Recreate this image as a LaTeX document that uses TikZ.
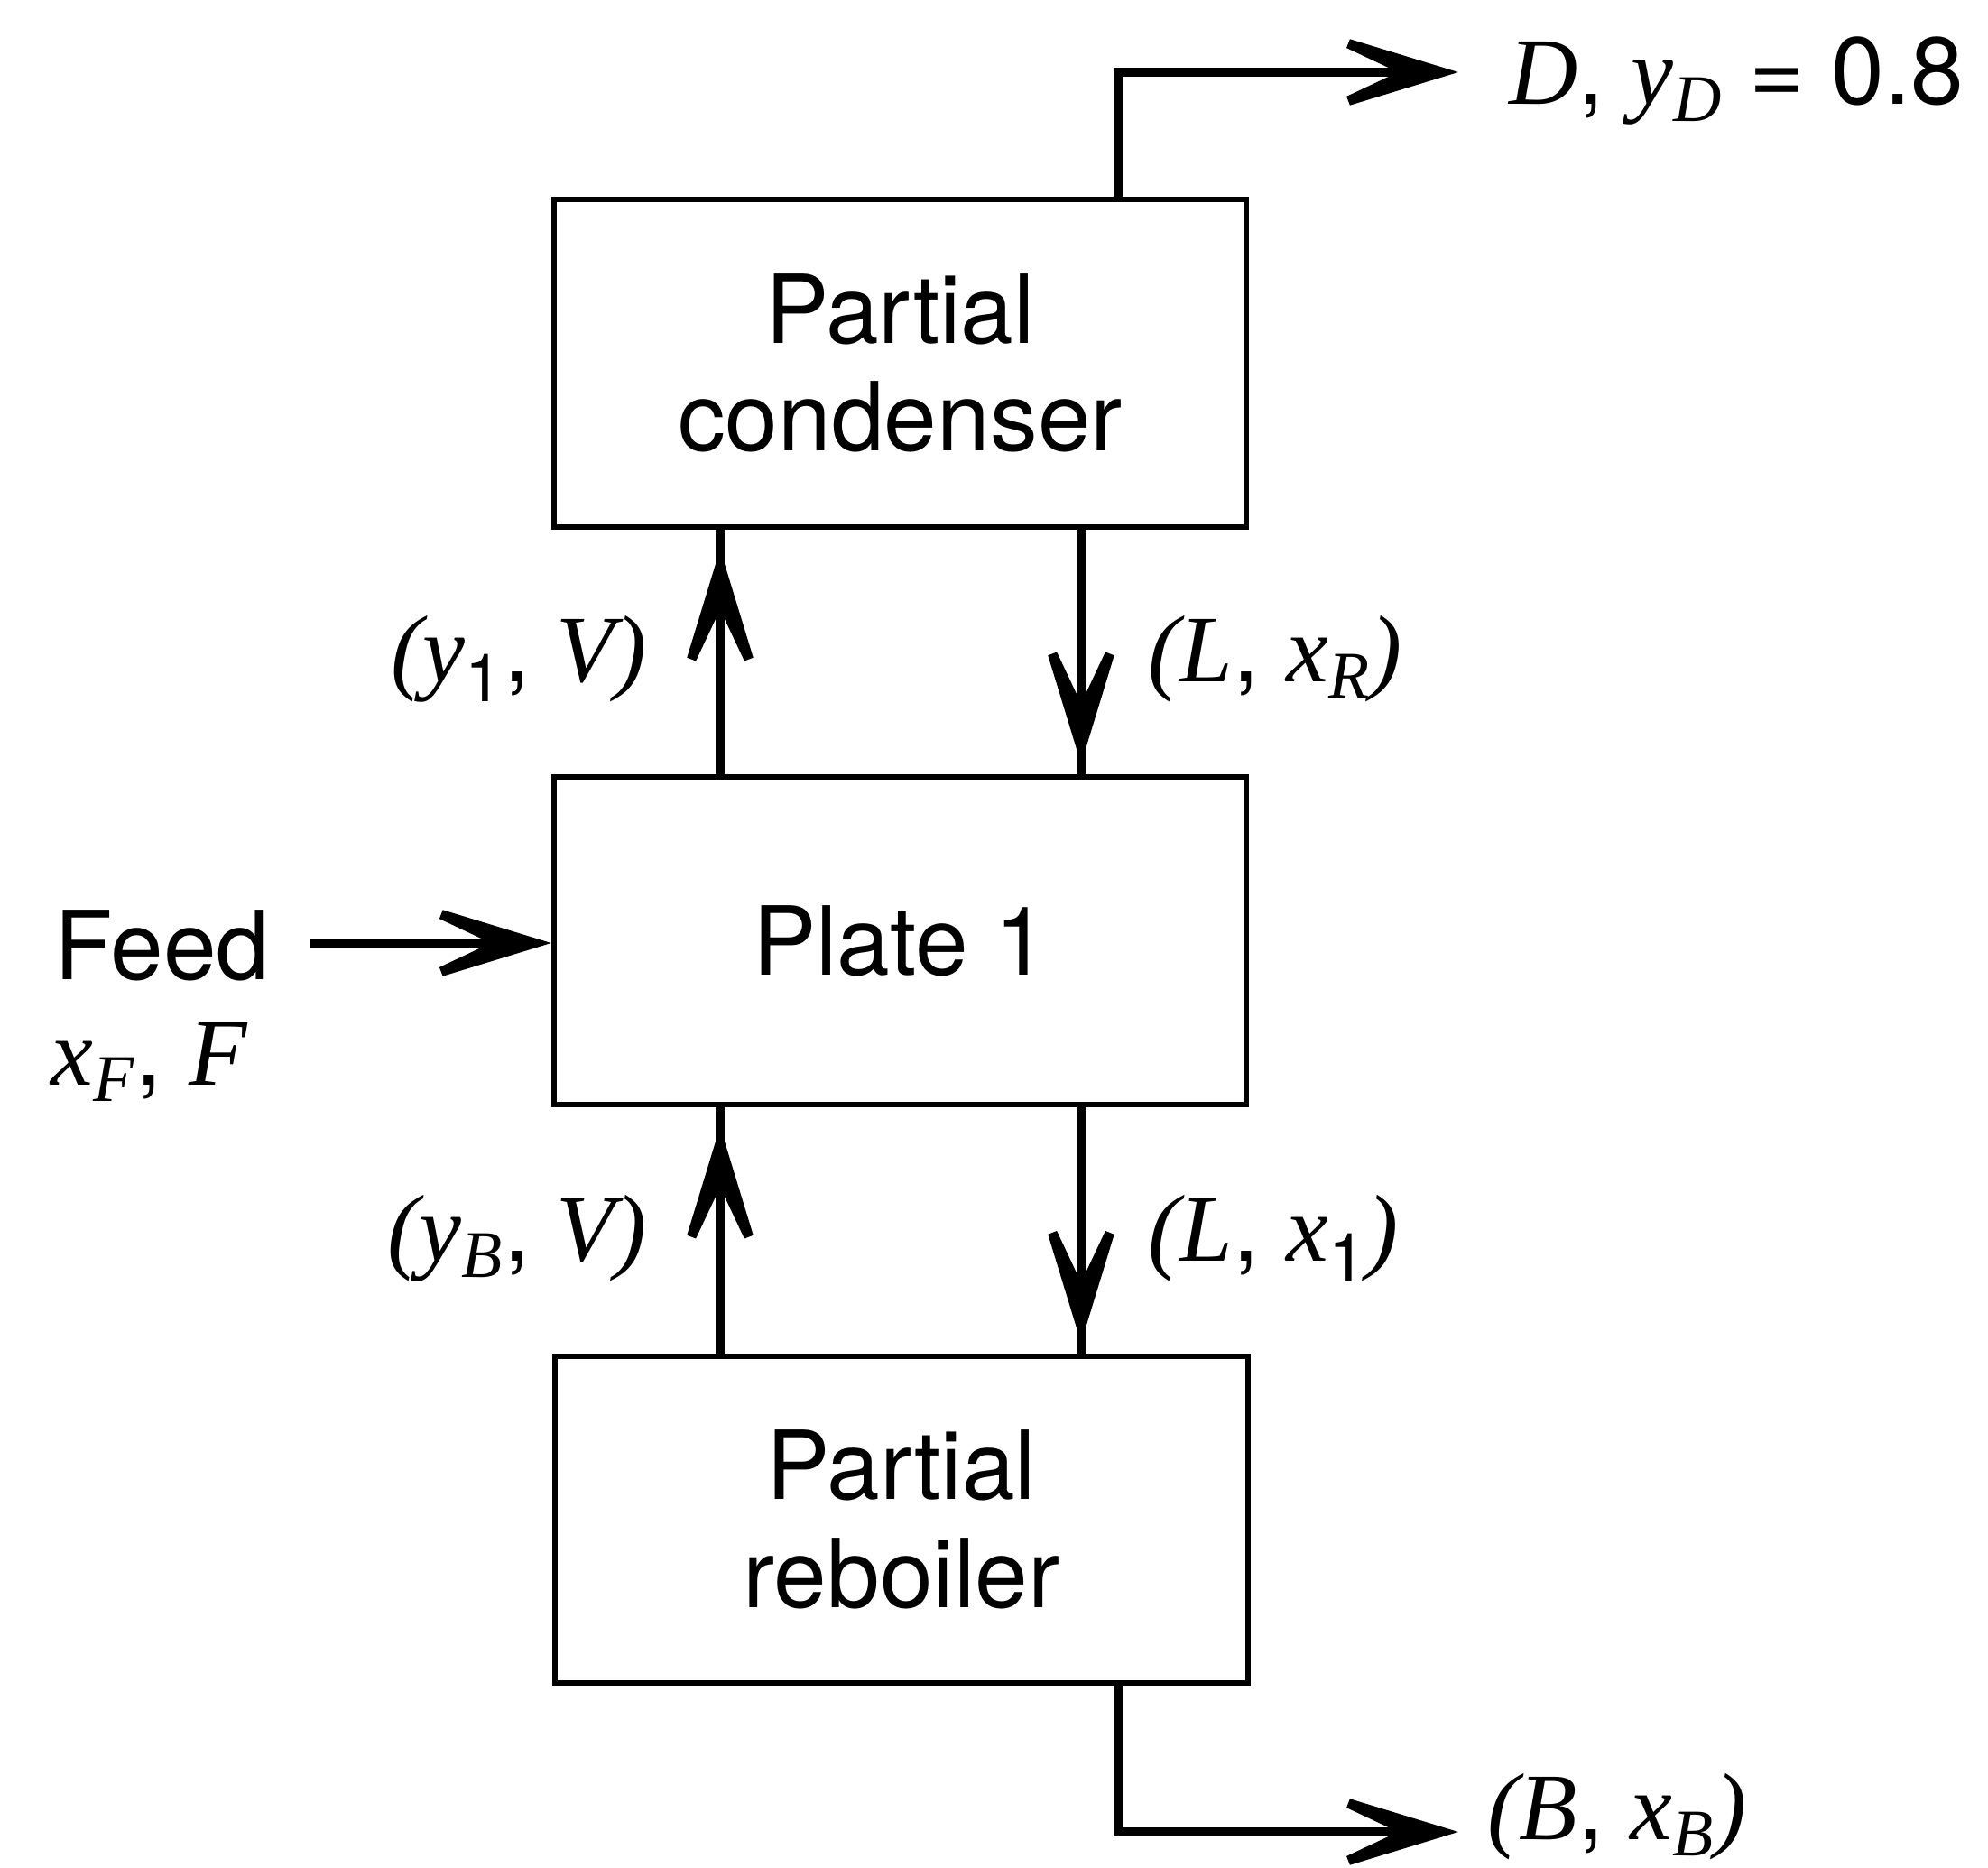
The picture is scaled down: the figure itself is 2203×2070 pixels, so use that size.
\documentclass[tikz,border=0pt]{standalone}
\usepackage{fontspec}
\setmainfont{TeX Gyre Heros}
\newfontfamily\tms{Liberation Serif}
\usetikzlibrary{arrows.meta}
\newcommand\vi[1]{{\tms\itshape #1}}
\newcommand\sbs[1]{\textsubscript{#1}}
\begin{document}
\begin{tikzpicture}[x=0.01cm,y=-0.01cm,
  box/.style={draw, line width=1.7pt, minimum width=7.67cm, minimum height=3.62cm,
    inner sep=0pt, align=center, font=\fontsize{30}{34}\selectfont},
  conn/.style={line width=2.6pt},
  tip/.style={-{Stealth[length=54pt,width=33pt,inset=35pt,line width=3pt]}},
  lbl/.style={inner sep=0pt, font=\fontsize{30}{34}\selectfont}]
\useasboundingbox (0,0) rectangle (2203,2070);
\node[box] (cond)  at (997.5,402.5) {Partial\\condenser};
\node[box] (plate) at (997.5,1042.5) {Plate 1};
\node[box] (reb)   at (999,1684) {Partial\\reboiler};
\coordinate (u) at (798,0);
\coordinate (d) at (1198,0);
\coordinate (o) at (1239,0);
\coordinate (dtip) at (1616,80);
\coordinate (btip) at (1616,2030);
\coordinate (fs) at (344,1045);
% vertical streams
\draw[conn] (plate.north -| u) -- (cond.south -| u);
\draw[conn,tip,shorten >=0.22cm] (plate.north -| u) -- (cond.south -| u);
\draw[conn] (cond.south -| d) -- (plate.north -| d);
\draw[conn,tip,shorten >=0.12cm] (cond.south -| d) -- (plate.north -| d);
\draw[conn] (reb.north -| u) -- (plate.south -| u);
\draw[conn,tip,shorten >=0.22cm] (reb.north -| u) -- (plate.south -| u);
\draw[conn] (plate.south -| d) -- (reb.north -| d);
\draw[conn,tip,shorten >=0.12cm] (plate.south -| d) -- (reb.north -| d);
% outlets
\draw[conn,tip] (cond.north -| o) |- (dtip);
\draw[conn,tip] (reb.south -| o) |- (btip);
\draw[conn,tip] (fs) -- (plate.west |- fs);
% labels
\node[lbl,anchor=base west] (dl) at (1672,116) {\vi{D}, \vi{y}\sbs{\vi{D}} = 0.8};
\node[lbl,anchor=base east] (l1) at (717,755) {\vi{(y}\sbs{1}, \vi{V)}};
\node[lbl,anchor=base west] (l2) at (1272,755) {\vi{(L}, \vi{x}\sbs{\vi{R}}\vi{)}};
\node[lbl,anchor=base east] (l3) at (717,1397) {\vi{(y}\sbs{\vi{B}}, \vi{V)}};
\node[lbl,anchor=base west] (l4) at (1272,1397) {\vi{(L}, \vi{x}\sbs{1}\vi{)}};
\node[lbl,anchor=base west] (l5) at (1648,2038) {\vi{(B}, \vi{x}\sbs{\vi{B}}\vi{)}};
\node[lbl,anchor=base west] (feed) at (60,1085) {Feed};
\node[lbl,anchor=base west] (xf) at (56,1202) {\vi{x}\sbs{\vi{F}}, \vi{F}};
\end{tikzpicture}
\end{document}
